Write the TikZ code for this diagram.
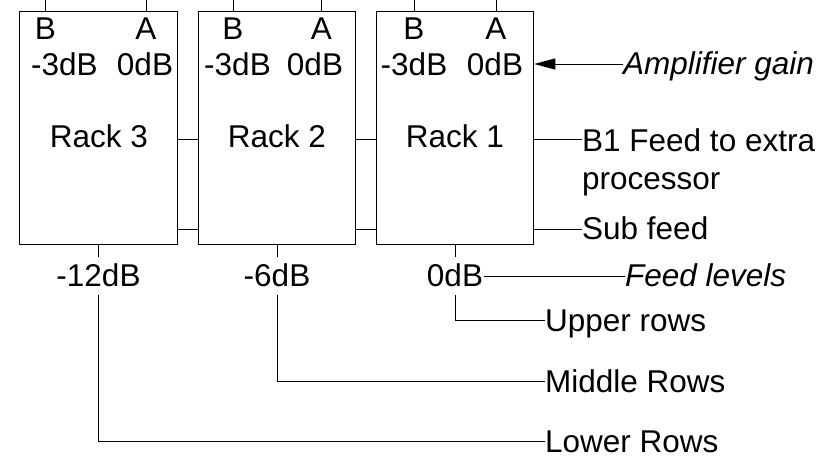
\documentclass[tikz,border=0pt]{standalone}
\usepackage{fontspec}
\setmainfont{Liberation Sans}
\usetikzlibrary{arrows.meta}
\begin{document}
\begin{tikzpicture}[x=1pt,y=-1pt,
  every node/.style={font=\fontsize{31.5}{37.8}\selectfont},
  rackbox/.style={draw,line width=1pt,minimum width=157.5pt,minimum height=233pt,inner sep=0pt},
  txt/.style={anchor=base,inner sep=0pt},
  lbl/.style={anchor=west,inner sep=0pt,text height=22pt,text depth=0pt},
  feed/.style={anchor=base,inner xsep=1pt,inner ysep=8pt,text height=22pt,text depth=0pt},
  wire/.style={line width=0.9pt}]
\useasboundingbox (0,0) rectangle (820,457);
\coordinate (topedge) at (0,0);
\coordinate (upperlink) at (0,139);
\coordinate (lowerlink) at (0,229);
% racks
\node[rackbox] (r3) at (98.5,128.5) {};
\node[rackbox] (r2) at (277,128.5) {};
\node[rackbox] (r1) at (455,128.5) {};
% inputs
\node[txt] (b3) at (45.5,40) {B};
\node[txt] (a3) at (146,40) {A};
\node[txt] (b2) at (233,40) {B};
\node[txt] (a2) at (321.5,40) {A};
\node[txt] (b1in) at (414,40) {B};
\node[txt] (a1) at (496,40) {A};
\foreach \n in {b3,a3,b2,a2,b1in,a1}
  \draw[wire] (r3.north -| \n) -- (topedge -| \n);
% gains
\node[txt] at (64.5,76) {-3dB};
\node[txt] at (145,76) {0dB};
\node[txt] at (237.5,76) {-3dB};
\node[txt] at (315,76) {0dB};
\node[txt] at (414,76) {-3dB};
\node[txt] (g1a) at (495,76) {0dB};
% rack names
\node[txt] at (99,148) {Rack 3};
\node[txt] at (277,148) {Rack 2};
\node[txt] at (455,148) {Rack 1};
% links between racks
\draw[wire] (r3.east |- upperlink) -- (r2.west |- upperlink);
\draw[wire] (r2.east |- upperlink) -- (r1.west |- upperlink);
\draw[wire] (r3.east |- lowerlink) -- (r2.west |- lowerlink);
\draw[wire] (r2.east |- lowerlink) -- (r1.west |- lowerlink);
% right labels
\node[lbl] (amp) at (623,64) {\itshape Amplifier gain};
\draw[wire,-{Triangle[length=21pt,width=11pt]}] (amp.west) -- (r1.east |- amp.west);
\node[lbl] (xfeed) at (582,141) {B1 Feed to extra};
\node[lbl] at (582,179) {processor};
\draw[wire] (r1.east |- upperlink) -- (xfeed.west |- upperlink);
\node[lbl] (sub) at (582,229) {Sub feed};
\draw[wire] (r1.east |- sub.west) -- (sub.west);
% feed levels
\node[feed] (f3) at (98.5,287) {-12dB};
\node[feed] (f2) at (277,287) {-6dB};
\node[feed] (f1) at (455,287) {0dB};
\draw[wire] (r3.south) -- (r3.south |- f3.north);
\draw[wire] (r2.south) -- (r2.south |- f2.north);
\draw[wire] (r1.south) -- (r1.south |- f1.north);
\node[lbl] (flv) at (625,276) {\itshape Feed levels};
\draw[wire] (f1.east) -- (flv.west);
\node[lbl] (up) at (545,320) {Upper rows};
\node[lbl] (mid) at (545,381) {Middle Rows};
\node[lbl] (low) at (545,441) {Lower Rows};
\draw[wire] (r1.south |- f1.south) |- (up.west);
\draw[wire] (r2.south |- f2.south) |- (mid.west);
\draw[wire] (r3.south |- f3.south) |- (low.west);
\end{tikzpicture}
\end{document}
